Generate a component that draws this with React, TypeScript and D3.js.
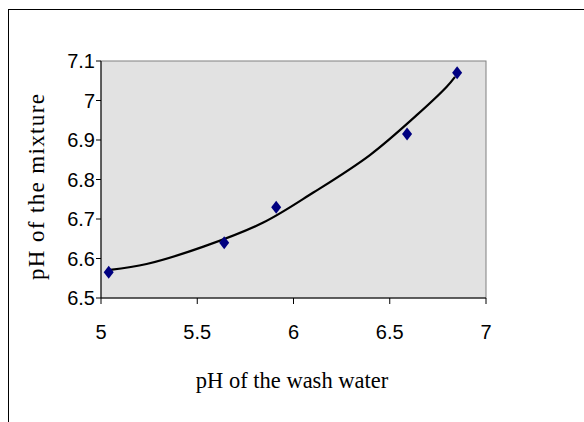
import * as d3 from "d3";

// measured points
const washPH = [5.04, 5.64, 5.91, 6.59, 6.85];
const mixturePH = [6.565, 6.64, 6.73, 6.915, 7.07];

// trend line
const trendX = [5.047, 5.237, 5.532, 5.843, 6.103, 6.397, 6.64, 6.796, 6.839];
const trendY = [6.571, 6.586, 6.63, 6.691, 6.767, 6.862, 6.963, 7.035, 7.06];

const xTicks = [5, 5.5, 6, 6.5, 7];
const yTicks = [6.5, 6.6, 6.7, 6.8, 6.9, 7, 7.1];

const W = 584;
const H = 422;
const plot = { left: 101, right: 486, top: 61, bottom: 298 };

export default function App() {
  const x = d3.scaleLinear().domain([5, 7]).range([plot.left, plot.right]);
  const y = d3.scaleLinear().domain([6.5, 7.1]).range([plot.bottom, plot.top]);

  const trend = d3
    .line<number>()
    .x((d) => x(d))
    .y((_, i) => y(trendY[i]))
    .curve(d3.curveCatmullRom)(trendX);

  const diamond = (cx: number, cy: number) =>
    `M${cx},${cy - 6.5}L${cx + 5},${cy}L${cx},${cy + 6.5}L${cx - 5},${cy}Z`;

  return (
    <svg
      width={W}
      height={H}
      style={{ position: "absolute", left: 0, top: 0, background: "#fff" }}
    >
      {/* chart area border, runs off the right and bottom */}
      <rect x={8.5} y={9.5} width={640} height={480} fill="none" stroke="#000" strokeWidth={1} />

      {/* plot area */}
      <rect
        x={plot.left}
        y={plot.top}
        width={plot.right - plot.left}
        height={plot.bottom - plot.top}
        fill="#e2e2e2"
        stroke="#808080"
        strokeWidth={1}
      />

      {/* y axis */}
      <line x1={plot.left} x2={plot.left} y1={plot.top} y2={plot.bottom} stroke="#000" />
      {yTicks.map((t) => (
        <g key={t}>
          <line x1={plot.left - 5} x2={plot.left} y1={y(t)} y2={y(t)} stroke="#000" />
          <text
            x={plot.left - 6}
            y={y(t)}
            dy="0.36em"
            textAnchor="end"
            fontFamily="Liberation Sans, Arial, sans-serif"
            fontSize={20}
            fill="#000"
          >
            {t}
          </text>
        </g>
      ))}

      {/* x axis */}
      <line x1={plot.left} x2={plot.right} y1={plot.bottom} y2={plot.bottom} stroke="#000" />
      {xTicks.map((t) => (
        <g key={t}>
          <line x1={x(t)} x2={x(t)} y1={plot.bottom} y2={plot.bottom + 6} stroke="#000" />
          <text
            x={x(t)}
            y={339}
            textAnchor="middle"
            fontFamily="Liberation Sans, Arial, sans-serif"
            fontSize={20}
            fill="#000"
          >
            {t}
          </text>
        </g>
      ))}

      {/* trend line */}
      <path d={trend ?? ""} fill="none" stroke="#000" strokeWidth={2.2} strokeLinejoin="round" />

      {/* markers */}
      {washPH.map((v, i) => (
        <path key={i} d={diamond(x(v), y(mixturePH[i]))} fill="#000080" />
      ))}

      {/* axis titles */}
      <text
        x={292}
        y={388}
        textAnchor="middle"
        fontFamily="Liberation Serif, Times New Roman, serif"
        fontSize={22.5}
        fill="#000"
      >
        pH of the wash water
      </text>
      <text
        transform="translate(44,187) rotate(-90)"
        textAnchor="middle"
        fontFamily="Liberation Serif, Times New Roman, serif"
        fontSize={23}
        textLength={186}
        lengthAdjust="spacing"
        fill="#000"
      >
        pH of the mixture
      </text>
    </svg>
  );
}
